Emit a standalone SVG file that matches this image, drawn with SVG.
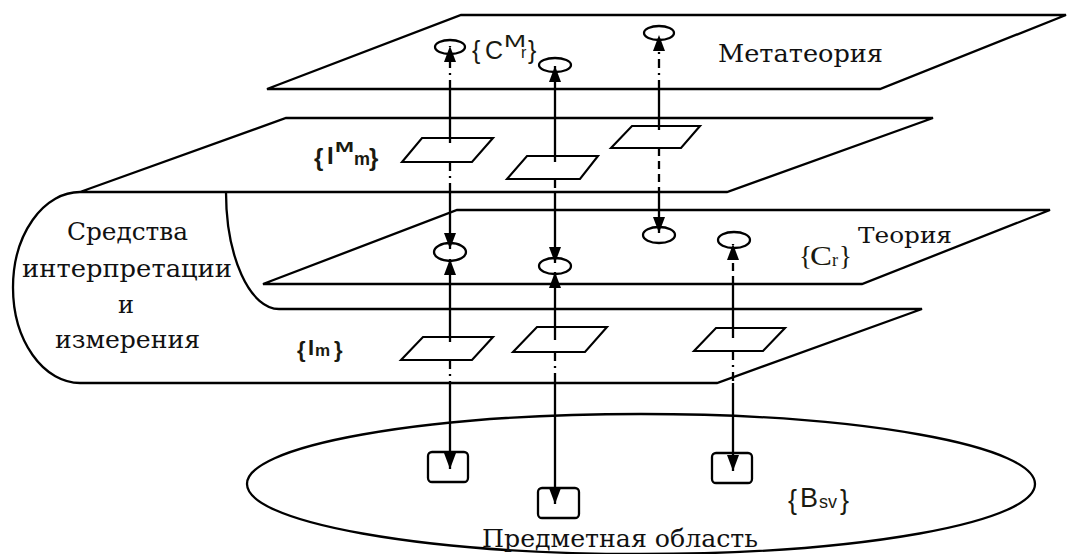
<svg xmlns="http://www.w3.org/2000/svg" width="1067" height="554" viewBox="0 0 1067 554">
<defs>
<style>
.pl{fill:none;stroke:#000;stroke-width:2.3;stroke-linejoin:miter}
.ln{fill:none;stroke:#000;stroke-width:2.3}
.dd{fill:none;stroke:#000;stroke-width:2.3;stroke-dasharray:9 5 2 5}
.ds{fill:none;stroke:#000;stroke-width:2.3;stroke-dasharray:8 5}
.ar{marker-end:url(#ah)}
.el{fill:none;stroke:#000;stroke-width:2.3}
.pg{fill:#fff;stroke:#000;stroke-width:2.1}
.bx{fill:none;stroke:#000;stroke-width:2.3}
.ser{font-family:"DejaVu Serif","Liberation Serif",serif;fill:#111}
.ser2{font-family:"Liberation Serif","DejaVu Serif",serif;fill:#1a1a10}
.sans{font-family:"Liberation Sans","DejaVu Sans",sans-serif;fill:#1a1a10}
.bold{font-weight:bold}
</style>
<marker id="ah" viewBox="0 0 16 12" refX="16" refY="6" markerWidth="16" markerHeight="12" markerUnits="userSpaceOnUse" orient="auto">
<path d="M0 0 L16 6 L0 12 Z" fill="#000"/>
</marker>
</defs>
<rect width="1067" height="554" fill="#fff"/>

<g id="metatheory">
<polygon class="pl" points="461,15 1066,15 880,89 267,89"/>
<text class="ser" x="718" y="62" font-size="24" textLength="165" lengthAdjust="spacingAndGlyphs">Метатеория</text>
<text class="sans" font-size="25"><tspan x="472" y="59">{</tspan><tspan x="485" y="59">C</tspan><tspan x="504" y="47" font-size="17" textLength="22" lengthAdjust="spacingAndGlyphs">M</tspan><tspan x="521" y="58" font-size="16">r</tspan><tspan x="528" y="59">}</tspan></text>
<ellipse class="el" cx="450" cy="47" rx="15" ry="7"/>
<ellipse class="el" cx="555" cy="65" rx="16" ry="7"/>
<ellipse class="el" cx="659" cy="33" rx="15" ry="7"/>
</g>

<g id="interp-meta">
<path class="pl" d="M80 192 L286 118 L933 118 L727 192 Z"/>
<text class="sans bold" font-size="24"><tspan x="314" y="166">{</tspan><tspan x="327" y="164">I</tspan><tspan x="335" y="152" font-size="15" textLength="19" lengthAdjust="spacingAndGlyphs">M</tspan><tspan x="354" y="165" font-size="18">m</tspan><tspan x="369" y="166">}</tspan></text>
</g>

<g id="means">
<path class="pl" d="M80 192 A67 95.5 0 0 0 80 383"/>
<path class="pl" d="M226 192 A53 117 0 0 0 279 309"/>
<text class="ser" x="67" y="240" font-size="24" textLength="121" lengthAdjust="spacingAndGlyphs">Средства</text>
<text class="ser" x="22" y="277" font-size="24" textLength="210" lengthAdjust="spacingAndGlyphs">интерпретации</text>
<text class="ser" x="118" y="313" font-size="24">и</text>
<text class="ser" x="55" y="348" font-size="24" textLength="145" lengthAdjust="spacingAndGlyphs">измерения</text>
</g>

<g id="theory">
<polygon class="pl" points="457,210 1050,210 862,284 263,284"/>
<text class="ser" x="858" y="243" font-size="22" textLength="94" lengthAdjust="spacingAndGlyphs">Теория</text>
<text class="ser2" font-size="27"><tspan x="799" y="265">{</tspan><tspan x="810" y="265" textLength="22" lengthAdjust="spacingAndGlyphs">C</tspan><tspan x="832" y="266" font-size="18">r</tspan><tspan x="839" y="265">}</tspan></text>
<ellipse class="el" cx="450" cy="252" rx="16" ry="9"/>
<ellipse class="el" cx="555" cy="266" rx="16" ry="8"/>
<ellipse class="el" cx="659" cy="235" rx="16" ry="8"/>
<ellipse class="el" cx="734" cy="240" rx="16" ry="8"/>
</g>

<g id="interp">
<path class="pl" d="M279 309 L922 309 L717 383 L80 383"/>
<text class="sans bold" font-size="22"><tspan x="297" y="357">{</tspan><tspan x="308" y="355">I</tspan><tspan x="315" y="356" font-size="17">m</tspan><tspan x="334" y="357">}</tspan></text>
</g>

<g id="domain">
<ellipse class="el" cx="641" cy="484" rx="394" ry="70"/>
<text class="ser" x="482" y="547" font-size="24" textLength="276" lengthAdjust="spacingAndGlyphs">Предметная область</text>
<text class="sans" font-size="27"><tspan x="788" y="509">{</tspan><tspan x="800" y="507">B</tspan><tspan x="819" y="508" font-size="18">sv</tspan><tspan x="840" y="509">}</tspan></text>
<rect class="bx" x="428" y="452" width="40" height="30" rx="4"/>
<rect class="bx" x="538" y="488" width="41" height="30" rx="4"/>
<rect class="bx" x="712" y="453" width="40" height="30" rx="4"/>
</g>

<g id="frames">
<polygon class="pg" points="422,138 493,138 472,162 402,162"/>
<polygon class="pg" points="527,156 598,156 580,179 507,179"/>
<polygon class="pg" points="632,126 700,126 681,148 611,148"/>
<polygon class="pg" points="423,337 493,337 472,360 401,360"/>
<polygon class="pg" points="537,327 607,327 585,352 513,352"/>
<polygon class="pg" points="716,328 785,328 763,351 694,351"/>
</g>

<g id="connectors">
<path class="dd ar" d="M450 89 V46"/>
<path class="ln" d="M450 89 V143"/>
<path class="dd" d="M450 162 V192"/>
<path class="ln ar" d="M450 192 V249"/>
<path class="ln ar" d="M450 342 V259"/>
<path class="dd" d="M450 360 V383"/>
<path class="ln ar" d="M450 383 V469"/>

<path class="ln ar" d="M555 162 V66"/>
<path class="dd" d="M555 179 V192"/>
<path class="ln ar" d="M555 192 V263"/>
<path class="ln ar" d="M555 340 V272"/>
<path class="dd" d="M555 352 V383"/>
<path class="ln ar" d="M555 383 V504"/>

<path class="dd ar" d="M659 89 V35"/>
<path class="ln" d="M659 89 V130"/>
<path class="ds" d="M659 148 V192"/>
<path class="ln ar" d="M659 192 V233"/>

<path class="ds ar" d="M733 284 V244"/>
<path class="ln" d="M733 284 V338"/>
<path class="dd" d="M733 351 V383"/>
<path class="ln ar" d="M733 383 V471"/>
</g>
</svg>
